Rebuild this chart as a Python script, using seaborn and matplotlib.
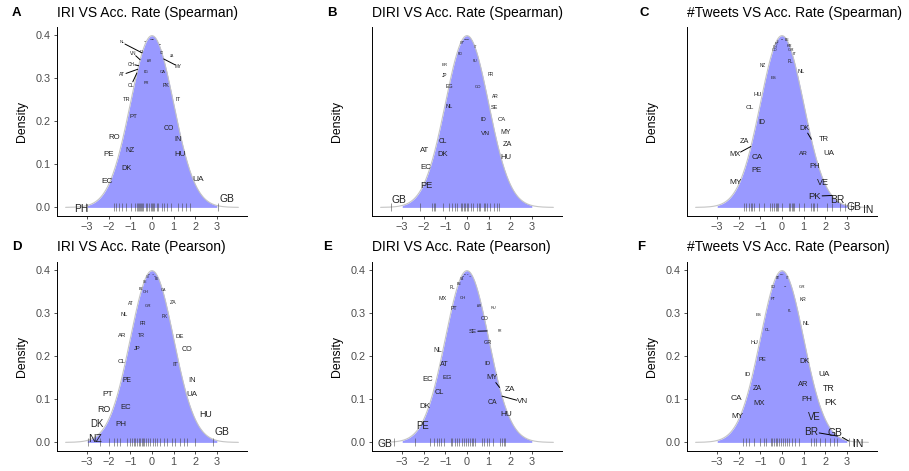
import numpy as np
import pandas as pd
import matplotlib
matplotlib.use("Agg")
import matplotlib.pyplot as plt
import seaborn as sns

# ---------------- DATA (z-scores per country) ----------------
A_CODES = ["PH", "EC", "PE", "RO", "DK", "NZ", "PT", "TR", "CL", "AT", "CH", "VN", "NL", "ID",
           "FR", "EG", "AR", "SE", "JP", "US", "KR", "BE", "CZ", "ZA", "CA", "MY", "PK", "IT",
           "CO", "IN", "HU", "UA", "GB"]
A_Z = [-3.05, -1.78, -1.65, -1.53, -1.39, -1.19, -0.97, -0.80, -0.70, -0.66, -0.62, -0.55, -0.46, -0.50,
       -0.40, -0.30, -0.23, -0.12, -0.04, 0.02, 0.06, 0.11, 0.23, 0.30, 0.45, 0.54, 0.69, 0.88,
       1.19, 1.39, 1.59, 1.77, 3.04]

B_CODES = ["GB", "PE", "EC", "AT", "DK", "CL", "NL", "EG", "JP", "BR", "RO", "CH", "PT", "SA",
           "US", "KR", "IT", "RU", "CO", "FR", "AR", "SE", "ID", "CA", "VN", "MY", "ZA", "HU"]
B_Z = [-3.52, -2.19, -1.62, -1.55, -1.47, -1.11, -0.82, -0.69, -0.57, -0.45, -0.30, -0.22, -0.15, -0.08,
       -0.02, 0.05, 0.20, 0.28, 0.46, 0.55, 0.62, 0.77, 0.85, 0.93, 1.08, 1.23, 1.39, 1.48]

C_CODES = ["MY", "CA", "PE", "MX", "ZA", "ID", "CL", "HU", "NZ", "ES", "CO", "CH", "PT", "FI",
           "US", "BE", "KR", "GR", "IT", "PL", "NL", "AR", "DK", "TR", "PH", "UA", "VE", "PK",
           "BR", "GB", "IN"]
C_Z = [-1.78, -1.67, -1.51, -1.44, -1.39, -1.28, -1.08, -0.85, -0.54, -0.45, -0.36, -0.30, -0.25, -0.18,
       0.0, 0.31, 0.38, 0.45, 0.50, 0.54, 0.77, 1.03, 1.36, 1.45, 1.50, 1.60, 2.08, 2.31,
       2.67, 2.93, 3.20]

D_CODES = ["NZ", "DK", "RO", "PT", "PH", "EC", "PE", "CL", "AR", "JP", "NL", "TR", "FR", "AT",
           "GR", "CH", "BE", "SE", "US", "KR", "ID", "MY", "EG", "CA", "PK", "ZA", "DE", "IT",
           "CO", "IN", "UA", "HU", "GB"]
D_Z = [-2.98, -2.39, -2.01, -1.78, -1.62, -1.47, -1.16, -1.00, -0.93, -0.85, -0.80, -0.69, -0.62, -0.55,
       -0.45, -0.40, -0.36, -0.30, -0.20, -0.10, 0.05, 0.15, 0.23, 0.38, 0.54, 0.69, 0.93, 1.08,
       1.31, 1.46, 1.60, 2.00, 2.82]

E_CODES = ["GB", "PE", "DK", "EC", "CL", "AT", "NL", "EG", "MX", "PT", "PL", "CH", "BE", "SA",
           "US", "KR", "JP", "IT", "AR", "FR", "RU", "CO", "GR", "SE", "ID", "CA", "MY", "VN",
           "ZA", "HU"]
E_Z = [-3.40, -2.39, -1.70, -1.55, -1.39, -1.31, -1.20, -1.08, -0.75, -0.69, -0.55, -0.45, -0.35, -0.25,
       -0.15, -0.05, 0.05, 0.15, 0.23, 0.30, 0.38, 0.69, 0.77, 0.93, 1.00, 1.20, 1.51, 1.62,
       1.70, 1.75]

F_CODES = ["CA", "MY", "MX", "ZA", "ID", "PE", "HU", "CL", "ES", "PT", "CO", "BE", "SA", "US",
           "JP", "CZ", "IT", "PL", "GR", "KR", "NL", "DK", "AR", "PH", "UA", "TR", "PK", "VE",
           "BR", "GB", "IN"]
F_Z = [-1.81, -1.67, -1.55, -1.31, -1.00, -0.85, -0.74, -0.50, -0.45, -0.38, -0.30, -0.22, -0.15, -0.05,
       0.05, 0.15, 0.22, 0.31, 0.46, 0.62, 0.77, 1.34, 1.46, 1.59, 1.74, 2.00, 2.24, 2.39,
       2.57, 3.08, 3.30]

TITLES = ["IRI VS Acc. Rate (Spearman)", "DIRI VS Acc. Rate (Spearman)", "#Tweets VS Acc. Rate (Spearman)",
          "IRI VS Acc. Rate (Pearson)", "DIRI VS Acc. Rate (Pearson)", "#Tweets VS Acc. Rate (Pearson)"]
LETTERS = ["A", "B", "C", "D", "E", "F"]
X_TICKS = [-3, -2, -1, 0, 1, 2, 3]
Y_TICKS = [0.0, 0.1, 0.2, 0.3, 0.4]

# ---------------- LAYOUT (repelled label positions, connector segments) ----------------
A_POS = {"PH": (-3.29, -0.004), "EC": (-2.08, 0.059), "PE": (-2.01, 0.123), "RO": (-1.73, 0.162),
         "DK": (-1.16, 0.090), "NZ": (-1.04, 0.131), "PT": (-0.88, 0.212), "TR": (-1.19, 0.250),
         "CL": (-0.97, 0.283), "AT": (-1.38, 0.308), "CH": (-0.97, 0.333), "VN": (-0.88, 0.358),
         "NL": (-1.39, 0.383), "ID": (-0.46, 0.360), "FR": (-0.28, 0.289), "EG": (-0.26, 0.315),
         "AR": (-0.14, 0.341), "SE": (-0.31, 0.385), "BE": (0.38, 0.378), "CZ": (0.46, 0.358),
         "ZA": (0.93, 0.352), "CA": (0.51, 0.315), "MY": (1.23, 0.327), "PK": (0.65, 0.283),
         "IT": (1.20, 0.250), "CO": (0.77, 0.184), "IN": (1.19, 0.157), "HU": (1.31, 0.123),
         "UA": (2.16, 0.065), "GB": (3.47, 0.019)}
A_SEG = ["NL", "CH", "AT", "CL", "MY", "VN"]

B_POS = {"GB": (-3.13, 0.018), "PE": (-1.86, 0.051), "EC": (-1.89, 0.092), "AT": (-1.97, 0.131),
         "DK": (-1.11, 0.122), "CL": (-1.11, 0.154), "NL": (-0.82, 0.234), "EG": (-0.82, 0.280),
         "JP": (-1.04, 0.306), "BR": (-1.04, 0.331), "RO": (-0.31, 0.356), "IT": (0.38, 0.372),
         "RU": (0.38, 0.341), "CO": (0.49, 0.280), "FR": (1.08, 0.308), "AR": (1.31, 0.257),
         "SE": (1.28, 0.231), "ID": (0.77, 0.204), "CA": (1.61, 0.204), "VN": (0.86, 0.172),
         "MY": (1.80, 0.175), "ZA": (1.85, 0.146), "HU": (1.80, 0.116)}
B_SEG = []

C_POS = {"MY": (-2.16, 0.057), "CA": (-1.16, 0.117), "PE": (-1.19, 0.086), "MX": (-2.16, 0.122),
         "ZA": (-1.75, 0.152), "ID": (-0.93, 0.198), "CL": (-1.50, 0.233), "HU": (-1.13, 0.262),
         "NZ": (-0.90, 0.329), "ES": (-0.39, 0.301), "BE": (0.26, 0.388), "KR": (0.34, 0.376),
         "GR": (0.42, 0.365), "IT": (0.58, 0.356), "PL": (0.38, 0.340), "NL": (0.88, 0.315),
         "AR": (1.00, 0.125), "DK": (1.05, 0.184), "TR": (1.93, 0.157), "PH": (1.51, 0.095),
         "UA": (2.19, 0.125), "VE": (1.90, 0.058), "PK": (1.51, 0.026), "BR": (2.57, 0.017),
         "GB": (3.35, 0.000), "IN": (3.98, -0.005)}
C_SEG = ["MX", "DK", "PK", "BR"]

D_POS = {"NZ": (-2.62, 0.009), "DK": (-2.55, 0.042), "RO": (-2.24, 0.076), "PT": (-2.05, 0.111),
         "PH": (-1.44, 0.042), "EC": (-1.20, 0.080), "PE": (-1.16, 0.144), "CL": (-1.39, 0.189),
         "AR": (-1.39, 0.248), "JP": (-0.69, 0.219), "NL": (-1.28, 0.298), "TR": (-0.50, 0.248),
         "FR": (-0.44, 0.277), "AT": (-1.00, 0.323), "GR": (-0.19, 0.317), "CH": (-0.28, 0.350),
         "BE": (-0.52, 0.356), "CA": (0.51, 0.354), "PK": (0.58, 0.292), "ZA": (0.97, 0.326),
         "DE": (1.26, 0.246), "IT": (1.08, 0.180), "CO": (1.62, 0.216), "IN": (1.85, 0.144),
         "UA": (1.85, 0.112), "HU": (2.47, 0.065), "GB": (3.24, 0.025)}
D_SEG = []

E_POS = {"GB": (-3.78, -0.004), "PE": (-2.04, 0.039), "DK": (-1.93, 0.084), "EC": (-1.81, 0.146),
         "CL": (-1.28, 0.116), "AT": (-1.04, 0.180), "NL": (-1.34, 0.213), "EG": (-0.93, 0.150),
         "MX": (-1.14, 0.335), "PT": (-0.62, 0.310), "PL": (-0.69, 0.360), "CH": (-0.19, 0.335),
         "AR": (0.54, 0.316), "FR": (1.54, 0.258), "RU": (1.23, 0.311), "CO": (0.81, 0.287),
         "GR": (0.97, 0.231), "SE": (0.28, 0.258), "ID": (0.95, 0.183), "CA": (1.19, 0.092),
         "MY": (1.16, 0.150), "VN": (2.59, 0.094), "ZA": (2.00, 0.123), "HU": (1.80, 0.065)}
E_SEG = ["SE", "MY", "VN"]

F_POS = {"CA": (-2.13, 0.103), "MY": (-2.08, 0.059), "MX": (-1.04, 0.090), "ZA": (-1.16, 0.125),
         "ID": (-1.59, 0.157), "PE": (-0.93, 0.192), "HU": (-1.28, 0.231), "CL": (-0.67, 0.262),
         "ES": (-1.08, 0.295), "PT": (-0.39, 0.333), "CO": (-0.42, 0.362), "CZ": (0.15, 0.362),
         "PL": (0.38, 0.306), "GR": (0.93, 0.361), "KR": (0.97, 0.333), "NL": (1.11, 0.277),
         "DK": (1.03, 0.188), "AR": (0.97, 0.134), "PH": (1.16, 0.099), "UA": (1.93, 0.157),
         "TR": (2.16, 0.125), "PK": (2.24, 0.092), "VE": (1.51, 0.059), "BR": (1.36, 0.025),
         "GB": (2.47, 0.021), "IN": (3.52, -0.004)}
F_SEG = ["BR", "GB"]

PANELS = [
    dict(codes=A_CODES, z=A_Z, pos=A_POS, seg=A_SEG, left=57, top=27, letter_x=12, show_y=True),
    dict(codes=B_CODES, z=B_Z, pos=B_POS, seg=B_SEG, left=372, top=27, letter_x=327, show_y=False),
    dict(codes=C_CODES, z=C_Z, pos=C_POS, seg=C_SEG, left=687, top=27, letter_x=640, show_y=False),
    dict(codes=D_CODES, z=D_Z, pos=D_POS, seg=D_SEG, left=57, top=262, letter_x=12, show_y=True),
    dict(codes=E_CODES, z=E_Z, pos=E_POS, seg=E_SEG, left=372, top=262, letter_x=323, show_y=True),
    dict(codes=F_CODES, z=F_Z, pos=F_POS, seg=F_SEG, left=687, top=262, letter_x=637, show_y=True),
]


def dnorm(x):
    x = np.asarray(x, dtype=float)
    return np.exp(-x ** 2 / 2) / np.sqrt(2 * np.pi)


def label_size(zv):
    return float(np.clip(4.5 * np.sqrt(abs(zv)), 1.6, 7.4))


sns.set_theme(style="ticks")
plt.rcParams['font.family'] = ['Liberation Sans', 'DejaVu Sans']

W, H = 909, 471
AW, AH = 190, 189
fig = plt.figure(figsize=(W / 100, H / 100), dpi=100)

FILL = "#9999FF"
XLIM = (-4.4, 4.4)
YLIM = (-0.02, 0.419)

for i, p in enumerate(PANELS):
    ax = fig.add_axes([p["left"] / W, 1 - (p["top"] + AH) / H, AW / W, AH / H])
    ax.set_xlim(*XLIM)
    ax.set_ylim(*YLIM)

    xs = np.linspace(-4, 4, 401)
    xf = np.linspace(-3, 3, 301)
    ax.fill_between(xf, 0, dnorm(xf), color=FILL, lw=0, zorder=1)
    sns.lineplot(x=xs, y=dnorm(xs), color="#C4C4C4", lw=0.8, ax=ax, zorder=2)

    z = np.array(p["z"], dtype=float)
    rug = pd.DataFrame({"z": z, "y": np.zeros_like(z)})
    sns.scatterplot(data=rug, x="z", y="y", marker="|", s=30, color="#444444",
                    alpha=0.55, linewidth=0.7, ax=ax, legend=False, zorder=3)

    fig.canvas.draw()
    trans = ax.transData
    for code, zi in zip(p["codes"], z):
        lx, ly = p["pos"].get(code, (zi, float(dnorm(zi)) - 0.008))
        fs = label_size(zi)
        if code in p["seg"]:
            px0 = trans.transform((zi, float(dnorm(zi))))
            px1 = trans.transform((lx, ly))
            d = px1 - px0
            L = np.hypot(*d)
            r = fs * 1.1
            if L > r + 1:
                end = px1 - d / L * r
                e_data = trans.inverted().transform(end)
                ax.plot([zi, e_data[0]], [float(dnorm(zi)), e_data[1]], color="black", lw=0.7, zorder=4)
        ax.text(lx, ly, code, fontsize=fs, ha="center", va="center", color="#222222", zorder=5)

    sns.despine(ax=ax)
    for s in ["left", "bottom"]:
        ax.spines[s].set_color("black")
        ax.spines[s].set_linewidth(0.7)
    ax.set_xticks(X_TICKS)
    ax.set_xticklabels([f"{t}".replace("-", "\u2212") for t in X_TICKS])
    ax.tick_params(axis="x", length=2.5, width=0.6, color="#333333", labelsize=7.8,
                   labelcolor="#4D4D4D", pad=2)
    if p["show_y"]:
        ax.set_yticks(Y_TICKS)
        ax.set_yticklabels([f"{t:.1f}" for t in Y_TICKS])
        ax.tick_params(axis="y", length=2.5, width=0.6, color="#333333", labelsize=7.8,
                       labelcolor="#4D4D4D", pad=2)
    else:
        ax.set_yticks([])
    ax.set_xlabel("")
    ax.set_ylabel("Density", fontsize=8.8, color="black")
    ax.yaxis.set_label_coords(-29 / AW, 0.5)

    title_y = 1 - (p["top"] - 14.5) / H
    fig.text(p["left"] / W, title_y, TITLES[i], fontsize=10, ha="left", va="center", color="black")
    fig.text(p["letter_x"] / W, title_y, LETTERS[i], fontsize=9.5, fontweight="bold",
             ha="left", va="center", color="black")

fig.savefig("out.png", dpi=100)
